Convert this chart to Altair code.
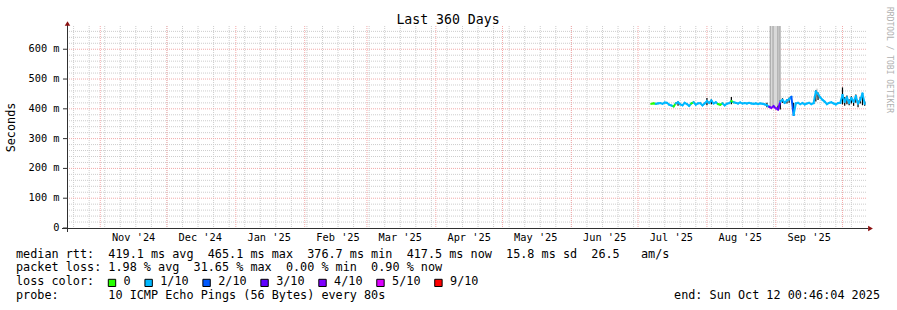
import altair as alt
import pandas as pd

# ---------------- data ----------------
first_day = "2025-07-07"
median_ms = [
    417, 418, 417, 418, 419, 417, 421,
    420, 414, 411, 408, 418, 422, 415,
    412, 420, 416, 410, 418, 422, 414,
    418, 419, 412, 418, 426, 420, 428,
    418, 422, 416, 414, 418, 412, 417,
    419, 426, 422, 420, 418, 421, 418,
    419, 418, 420, 418, 417, 418, 416,
    418, 417, 415, 412, 407, 403, 409,
    402, 398, 424, 430, 420, 428, 432,
    440, 380, 418, 420, 416, 419, 415,
    418, 420, 416, 419, 458, 450, 438,
    430, 424, 416, 420, 422, 418, 415,
    419, 420, 446, 424, 438, 420, 436,
    424, 442, 418, 430, 451, 417,
]
loss_class = [
    "0", "0", "1/10", "1/10", "1/10", "1/10", "1/10",
    "1/10", "1/10", "1/10", "0", "1/10", "1/10", "1/10",
    "1/10", "1/10", "1/10", "1/10", "0", "1/10", "1/10",
    "1/10", "1/10", "1/10", "1/10", "1/10", "1/10", "1/10",
    "1/10", "1/10", "0", "0", "1/10", "1/10", "1/10",
    "1/10", "0", "1/10", "1/10", "1/10", "1/10", "1/10",
    "1/10", "1/10", "1/10", "1/10", "1/10", "1/10", "1/10",
    "1/10", "1/10", "1/10", "1/10", "3/10", "4/10", "3/10",
    "4/10", "3/10", "1/10", "1/10", "1/10", "1/10", "1/10",
    "2/10", "1/10", "1/10", "1/10", "1/10", "1/10", "1/10",
    "1/10", "1/10", "1/10", "1/10", "1/10", "1/10", "1/10",
    "1/10", "1/10", "1/10", "1/10", "1/10", "1/10", "1/10",
    "1/10", "1/10", "1/10", "1/10", "1/10", "1/10", "1/10",
    "1/10", "1/10", "1/10", "1/10", "1/10", "1/10",
]

spike_dates = ["2025-07-19", "2025-08-01", "2025-08-03", "2025-08-12", "2025-08-28",
               "2025-09-02", "2025-09-03", "2025-09-04", "2025-09-06", "2025-09-07",
               "2025-09-09", "2025-09-19", "2025-09-20", "2025-10-01", "2025-10-02",
               "2025-10-03", "2025-10-04", "2025-10-05", "2025-10-06", "2025-10-07",
               "2025-10-08", "2025-10-09", "2025-10-10", "2025-10-11"]
spike_lo = [410, 412, 415, 415, 405, 395, 398, 420, 418, 420, 376, 425, 430,
            415, 410, 415, 412, 418, 410, 420, 405, 418, 412, 410]
spike_hi = [425, 436, 432, 440, 420, 410, 428, 436, 432, 438, 420, 462, 455,
            472, 440, 445, 432, 442, 430, 448, 428, 440, 452, 425]

# light smoke band and darker smoke streaks
smoke_start = ["2025-08-29T08:00:00Z", "2025-09-19T00:00:00Z"]
smoke_end = ["2025-09-03T06:00:00Z", "2025-09-20T00:00:00Z"]
smoke_lo = [402, 440]
smoke_hi = [678, 468]
streak_dates = ["2025-08-29T12:00:00Z", "2025-08-30T18:00:00Z", "2025-09-01T22:00:00Z",
                "2025-09-02T20:00:00Z"]
streak_lo = [404, 404, 400, 400]
streak_hi = [678, 678, 678, 678]

loss_labels = ["0", "1/10", "2/10", "3/10", "4/10", "5/10", "9/10"]
loss_colors = ["#26ff00", "#00b8ff", "#0059ff", "#5e00ff", "#7e00ff", "#dd00ff", "#ff0000"]

y_ticks = [0, 100, 200, 300, 400, 500, 600]
y_tick_labels = ["0", "100 m", "200 m", "300 m", "400 m", "500 m", "600 m"]

month_starts = ["2024-11-01", "2024-12-01", "2025-01-01", "2025-02-01", "2025-03-01", "2025-04-01",
                "2025-05-01", "2025-06-01", "2025-07-01", "2025-08-01", "2025-09-01", "2025-10-01"]
month_mids = ["2024-11-16", "2024-12-16", "2025-01-16", "2025-02-16", "2025-03-16", "2025-04-16",
              "2025-05-16", "2025-06-16", "2025-07-16", "2025-08-16", "2025-09-16"]
month_labels = ["Nov '24", "Dec '24", "Jan '25", "Feb '25", "Mar '25", "Apr '25",
                "May '25", "Jun '25", "Jul '25", "Aug '25", "Sep '25"]

legend_line1 = "median rtt:  419.1 ms avg  465.1 ms max  376.7 ms min  417.5 ms now  15.8 ms sd  26.5   am/s"
legend_line2 = "packet loss: 1.98 % avg  31.65 % max  0.00 % min  0.90 % now"
legend_line3 = "loss color:"
legend_line4 = "probe:       10 ICMP Echo Pings (56 Bytes) every 80s"
end_text = "end: Sun Oct 12 00:46:04 2025"
title_text = "Last 360 Days"
y_title = "Seconds"
watermark = "RRDTOOL / TOBI OETIKER"

NB = "\u00a0"

# ---------------- frames ----------------
dates = pd.date_range(first_day, periods=len(median_ms), freq="D")
seg = pd.DataFrame({"date": dates.strftime("%Y-%m-%d"), "ms": median_ms, "loss": loss_class})
seg["date2"] = seg["date"].shift(-1)
seg["ms2"] = seg["ms"].shift(-1)
seg = seg.dropna()

spikes = pd.DataFrame({"date": spike_dates, "lo": spike_lo, "hi": spike_hi})
smoke = pd.DataFrame({"s": smoke_start, "e": smoke_end, "lo": smoke_lo, "hi": smoke_hi})
streaks = pd.DataFrame({"d": streak_dates, "lo": streak_lo, "hi": streak_hi})

weeks = pd.DataFrame({"d": pd.date_range("2024-10-20", "2025-10-11", freq="7D").strftime("%Y-%m-%d")})
months = pd.DataFrame({"d": month_starts})
minor_h = pd.DataFrame({"v": [v for v in range(20, 678, 20) if v % 100 != 0]})
major_h = pd.DataFrame({"v": y_ticks[1:]})
yt = pd.DataFrame({"v": y_ticks, "lab": [s.replace(" ", NB) for s in y_tick_labels]})
xl = pd.DataFrame({"d": month_mids, "lab": [s.replace(" ", NB) for s in month_labels]})

# legend swatches (layout computed from label lengths)
cw = 7.11
sx, sq_x, txt_x = 108.3 - 67, [], []
for lab in loss_labels:
    sq_x.append(sx)
    txt_x.append(sx + 15.3)
    sx = sx + 15.3 + (len(lab) + 2) * cw
sw = pd.DataFrame({"x": sq_x, "x2": [v + 7.4 for v in sq_x], "tx": txt_x,
                   "lab": loss_labels, "col": loss_colors})

# ---------------- scales ----------------
W, H = 800, 202
xs = alt.Scale(type="utc", domain=[
    alt.DateTime(year=2024, month=10, date=17, hours=0, minutes=46, seconds=4, utc=True),
    alt.DateTime(year=2025, month=10, date=12, hours=0, minutes=46, seconds=4, utc=True)])
ys = alt.Scale(domain=[0, 678], nice=False, zero=True)
FONT = "DejaVu Sans Mono"
GRAY = "#cdcdcd"
RED = "#f3a9a9"

vgrid_minor = alt.Chart(weeks).mark_rule(color=GRAY, strokeDash=[1, 1], strokeWidth=1).encode(
    x=alt.X("d:T", scale=xs, axis=None), y=alt.value(0), y2=alt.value(H))
vgrid_major = alt.Chart(months).mark_rule(color=RED, strokeDash=[1, 1], strokeWidth=1).encode(
    x=alt.X("d:T", scale=xs, axis=None), y=alt.value(0), y2=alt.value(H))
hgrid_minor = alt.Chart(minor_h).mark_rule(color=GRAY, strokeDash=[1, 1], strokeWidth=1).encode(
    y=alt.Y("v:Q", scale=ys, axis=None), x=alt.value(0), x2=alt.value(W))
hgrid_major = alt.Chart(major_h).mark_rule(color=RED, strokeDash=[1, 1], strokeWidth=1).encode(
    y=alt.Y("v:Q", scale=ys, axis=None), x=alt.value(0), x2=alt.value(W))

smoke_l = alt.Chart(smoke).mark_rect(clip=True, color="#d9d9d9").encode(
    x=alt.X("s:T", scale=xs, axis=None), x2="e:T",
    y=alt.Y("lo:Q", scale=ys, axis=None), y2="hi:Q")
streak_l = alt.Chart(streaks).mark_rule(color="#a9a9a9", strokeWidth=1.2, clip=True).encode(
    x=alt.X("d:T", scale=xs, axis=None),
    y=alt.Y("lo:Q", scale=ys, axis=None), y2="hi:Q")
spike_l = alt.Chart(spikes).mark_rule(color="black", strokeWidth=1.2).encode(
    x=alt.X("date:T", scale=xs, axis=None),
    y=alt.Y("lo:Q", scale=ys, axis=None), y2="hi:Q")
median_l = alt.Chart(seg).mark_rule(strokeWidth=2, strokeCap="square").encode(
    x=alt.X("date:T", scale=xs, axis=None), x2="date2:T",
    y=alt.Y("ms:Q", scale=ys, axis=None), y2="ms2:Q",
    color=alt.Color("loss:N", scale=alt.Scale(domain=loss_labels, range=loss_colors), legend=None))

xaxis_line = alt.Chart().mark_rule(color="#303030", strokeWidth=1).encode(
    x=alt.value(-5), x2=alt.value(W + 1), y=alt.value(H + 0.5))
yaxis_line = alt.Chart().mark_rule(color="#303030", strokeWidth=1).encode(
    x=alt.value(0.5), y=alt.value(-2), y2=alt.value(H + 4))
arrow_up = alt.Chart().mark_point(shape="triangle-up", filled=True, size=30, color="#8b1010", opacity=1).encode(
    x=alt.value(0.5), y=alt.value(-2.5))
arrow_right = alt.Chart().mark_point(shape="triangle-right", filled=True, size=30, color="#8b1010", opacity=1).encode(
    x=alt.value(W + 3.5), y=alt.value(H + 0.5))

ytick_marks = alt.Chart(yt).mark_rule(color="#303030").encode(
    y=alt.Y("v:Q", scale=ys, axis=None), x=alt.value(-4), x2=alt.value(0))
ytick_text = alt.Chart(yt).mark_text(font=FONT, fontSize=10.3, align="right", baseline="middle", color="black").encode(
    y=alt.Y("v:Q", scale=ys, axis=None), x=alt.value(-7.5), text="lab:N")
xlab_text = alt.Chart(xl).mark_text(font=FONT, fontSize=10.3, align="center", baseline="middle", color="black").encode(
    x=alt.X("d:T", scale=xs, axis=None), y=alt.value(211.5), text="lab:N")


def txt(s, x, y, size=11.8, align="left", angle=0, color="black", baseline="alphabetic"):
    return alt.Chart().mark_text(text=s.replace(" ", NB), font=FONT, fontSize=size, align=align,
                                 angle=angle, color=color, baseline=baseline).encode(
        x=alt.value(x), y=alt.value(y))


title_l = txt(title_text, 448 - 67, -2.5, size=13.2, align="center")
ytitle_l = txt(y_title, -56, 101.5, size=11.8, align="center", angle=270, baseline="middle")
wm_l = txt(watermark, 822, 34, size=8, align="center", angle=90, color="#b0b0b0", baseline="middle")
l1 = txt(legend_line1, -51, 231.5)
l2 = txt(legend_line2, -51, 245.4)
l3 = txt(legend_line3, -51, 259.3)
l4 = txt(legend_line4, -51, 273.2)
l_end = txt(end_text, 813, 273.2, align="right")

sw_rect = alt.Chart(sw).mark_rect(stroke="black", strokeWidth=1).encode(
    x=alt.X("x:Q", scale=None), x2="x2:Q",
    y=alt.value(253.3), y2=alt.value(260.5),
    color=alt.Color("col:N", scale=None))
sw_text = alt.Chart(sw).mark_text(font=FONT, fontSize=11.8, align="left", baseline="alphabetic", color="black").encode(
    x=alt.X("tx:Q", scale=None), y=alt.value(259.3), text="lab:N")

chart = alt.layer(
    vgrid_minor, hgrid_minor, vgrid_major, hgrid_major,
    smoke_l, streak_l, spike_l, median_l,
    xaxis_line, yaxis_line, arrow_up, arrow_right,
    ytick_marks, ytick_text, xlab_text,
    title_l, ytitle_l, wm_l, l1, l2, l3, l4, l_end, sw_rect, sw_text,
).properties(
    width=W, height=H,
    padding={"left": 67, "top": 26, "right": 30, "bottom": 82},
    autosize=alt.AutoSizeParams(type="none"),
    background="white",
).configure_view(stroke=None)

chart.save("out.html", embed_options={"renderer": "svg", "actions": False})
